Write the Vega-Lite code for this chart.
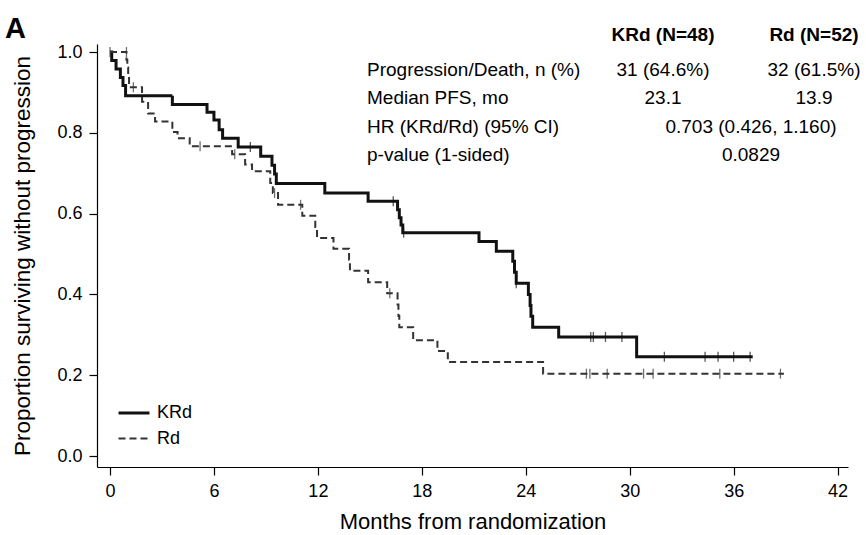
{
  "$schema": "https://vega.github.io/schema/vega-lite/v6.json",
  "width": 751,
  "height": 423,
  "autosize": {"type": "none"},
  "padding": {"left": 97, "top": 44, "right": 18, "bottom": 68},
  "background": "white",
  "title": {"text": "A", "anchor": "start", "frame": "bounds", "fontSize": 29, "fontWeight": "bold", "font": "Liberation Sans", "color": "black", "dx": -7, "dy": 22},
  "config": {
    "view": {"stroke": null},
    "font": "Liberation Sans",
    "axis": {
      "domainColor": "black", "domainWidth": 1.2, "tickColor": "black", "tickWidth": 1.2, "tickSize": 8,
      "labelFontSize": 18, "titleFontSize": 22, "labelColor": "black", "titleColor": "black",
      "titleFontWeight": "normal", "grid": false, "labelFont": "Liberation Sans", "titleFont": "Liberation Sans"
    }
  },
  "datasets": {
    "curves": [
      {"arm": "KRd", "t": 0, "s": 1.0},
      {"arm": "KRd", "t": 0.1, "s": 0.979},
      {"arm": "KRd", "t": 0.35, "s": 0.958},
      {"arm": "KRd", "t": 0.6, "s": 0.937},
      {"arm": "KRd", "t": 0.75, "s": 0.917},
      {"arm": "KRd", "t": 0.9, "s": 0.892},
      {"arm": "KRd", "t": 3.6, "s": 0.870},
      {"arm": "KRd", "t": 5.6, "s": 0.851},
      {"arm": "KRd", "t": 6.0, "s": 0.832},
      {"arm": "KRd", "t": 6.3, "s": 0.808},
      {"arm": "KRd", "t": 6.5, "s": 0.787},
      {"arm": "KRd", "t": 7.4, "s": 0.765},
      {"arm": "KRd", "t": 8.7, "s": 0.742},
      {"arm": "KRd", "t": 9.35, "s": 0.72},
      {"arm": "KRd", "t": 9.5, "s": 0.698},
      {"arm": "KRd", "t": 9.6, "s": 0.675},
      {"arm": "KRd", "t": 12.4, "s": 0.651},
      {"arm": "KRd", "t": 14.9, "s": 0.631},
      {"arm": "KRd", "t": 16.6, "s": 0.61},
      {"arm": "KRd", "t": 16.7, "s": 0.59},
      {"arm": "KRd", "t": 16.8, "s": 0.572},
      {"arm": "KRd", "t": 16.9, "s": 0.553},
      {"arm": "KRd", "t": 21.3, "s": 0.531},
      {"arm": "KRd", "t": 22.3, "s": 0.507},
      {"arm": "KRd", "t": 23.25, "s": 0.482},
      {"arm": "KRd", "t": 23.35, "s": 0.455},
      {"arm": "KRd", "t": 23.45, "s": 0.428},
      {"arm": "KRd", "t": 24.15, "s": 0.4},
      {"arm": "KRd", "t": 24.25, "s": 0.373},
      {"arm": "KRd", "t": 24.3, "s": 0.346},
      {"arm": "KRd", "t": 24.4, "s": 0.319},
      {"arm": "KRd", "t": 25.9, "s": 0.295},
      {"arm": "KRd", "t": 30.4, "s": 0.246},
      {"arm": "KRd", "t": 37.1, "s": 0.246},
      {"arm": "Rd", "t": 0, "s": 1.0},
      {"arm": "Rd", "t": 0.95, "s": 0.981},
      {"arm": "Rd", "t": 1.0, "s": 0.962},
      {"arm": "Rd", "t": 1.05, "s": 0.942},
      {"arm": "Rd", "t": 1.1, "s": 0.913},
      {"arm": "Rd", "t": 1.85, "s": 0.877},
      {"arm": "Rd", "t": 2.2, "s": 0.848},
      {"arm": "Rd", "t": 2.6, "s": 0.828},
      {"arm": "Rd", "t": 3.6, "s": 0.802},
      {"arm": "Rd", "t": 3.9, "s": 0.787},
      {"arm": "Rd", "t": 4.6, "s": 0.767},
      {"arm": "Rd", "t": 7.05, "s": 0.747},
      {"arm": "Rd", "t": 7.8, "s": 0.722},
      {"arm": "Rd", "t": 8.2, "s": 0.705},
      {"arm": "Rd", "t": 9.25, "s": 0.676},
      {"arm": "Rd", "t": 9.4, "s": 0.651},
      {"arm": "Rd", "t": 9.7, "s": 0.622},
      {"arm": "Rd", "t": 11.1, "s": 0.595},
      {"arm": "Rd", "t": 11.85, "s": 0.567},
      {"arm": "Rd", "t": 11.95, "s": 0.54},
      {"arm": "Rd", "t": 12.9, "s": 0.513},
      {"arm": "Rd", "t": 13.8, "s": 0.486},
      {"arm": "Rd", "t": 13.85, "s": 0.459},
      {"arm": "Rd", "t": 14.9, "s": 0.43},
      {"arm": "Rd", "t": 16.0, "s": 0.403},
      {"arm": "Rd", "t": 16.6, "s": 0.375},
      {"arm": "Rd", "t": 16.65, "s": 0.347},
      {"arm": "Rd", "t": 16.7, "s": 0.319},
      {"arm": "Rd", "t": 17.5, "s": 0.287},
      {"arm": "Rd", "t": 18.9, "s": 0.26},
      {"arm": "Rd", "t": 19.5, "s": 0.233},
      {"arm": "Rd", "t": 25.0, "s": 0.204},
      {"arm": "Rd", "t": 38.9, "s": 0.204}
    ],
    "censor": [
      {"arm": "KRd", "t": 8.1, "s": 0.765},
      {"arm": "KRd", "t": 16.35, "s": 0.631},
      {"arm": "KRd", "t": 16.95, "s": 0.553},
      {"arm": "KRd", "t": 23.45, "s": 0.428},
      {"arm": "KRd", "t": 27.75, "s": 0.295},
      {"arm": "KRd", "t": 27.9, "s": 0.295},
      {"arm": "KRd", "t": 28.6, "s": 0.295},
      {"arm": "KRd", "t": 29.55, "s": 0.295},
      {"arm": "KRd", "t": 32.0, "s": 0.246},
      {"arm": "KRd", "t": 34.35, "s": 0.246},
      {"arm": "KRd", "t": 35.1, "s": 0.246},
      {"arm": "KRd", "t": 36.0, "s": 0.246},
      {"arm": "KRd", "t": 36.95, "s": 0.246},
      {"arm": "Rd", "t": 0.0, "s": 1.0},
      {"arm": "Rd", "t": 0.95, "s": 1.0},
      {"arm": "Rd", "t": 1.35, "s": 0.913},
      {"arm": "Rd", "t": 5.2, "s": 0.767},
      {"arm": "Rd", "t": 7.2, "s": 0.747},
      {"arm": "Rd", "t": 9.5, "s": 0.651},
      {"arm": "Rd", "t": 11.0, "s": 0.622},
      {"arm": "Rd", "t": 16.15, "s": 0.403},
      {"arm": "Rd", "t": 27.5, "s": 0.204},
      {"arm": "Rd", "t": 27.7, "s": 0.204},
      {"arm": "Rd", "t": 28.7, "s": 0.204},
      {"arm": "Rd", "t": 30.8, "s": 0.204},
      {"arm": "Rd", "t": 31.35, "s": 0.204},
      {"arm": "Rd", "t": 35.2, "s": 0.204},
      {"arm": "Rd", "t": 38.7, "s": 0.204}
    ],
    "table": [
      {"row": "head", "col": "KRd", "text": "KRd (N=48)"},
      {"row": "head", "col": "Rd", "text": "Rd (N=52)"},
      {"row": "pd", "col": "label", "text": "Progression/Death, n (%)"},
      {"row": "pd", "col": "KRd", "text": "31 (64.6%)"},
      {"row": "pd", "col": "Rd", "text": "32 (61.5%)"},
      {"row": "med", "col": "label", "text": "Median PFS, mo"},
      {"row": "med", "col": "KRd", "text": "23.1"},
      {"row": "med", "col": "Rd", "text": "13.9"},
      {"row": "hr", "col": "label", "text": "HR (KRd/Rd) (95% CI)"},
      {"row": "hr", "col": "both", "text": "0.703 (0.426, 1.160)"},
      {"row": "p", "col": "label", "text": "p-value (1-sided)"},
      {"row": "p", "col": "both", "text": "0.0829"}
    ]
  },
  "resolve": {"scale": {"x": "independent", "y": "independent"}, "axis": {"x": "independent", "y": "independent"}},
  "layer": [
    {
      "data": {"name": "curves"},
      "mark": {"type": "line", "interpolate": "step-after"},
      "encoding": {
        "x": {"field": "t", "type": "quantitative",
              "scale": {"domain": [-0.75, 42.6], "nice": false, "zero": false},
              "axis": {"values": [0, 6, 12, 18, 24, 30, 36, 42], "title": "Months from randomization", "labelPadding": 7, "titlePadding": 11}},
        "y": {"field": "s", "type": "quantitative",
              "scale": {"domain": [-0.027, 1.02], "nice": false, "zero": false},
              "axis": {"values": [0, 0.2, 0.4, 0.6, 0.8, 1.0], "format": ".1f", "title": "Proportion surviving without progression", "labelPadding": 7, "titlePadding": 22, "titleFontSize": 22.5}},
        "strokeDash": {"field": "arm", "type": "nominal",
              "scale": {"domain": ["KRd", "Rd"], "range": [[1, 0], [7, 4]]},
              "legend": {"orient": "none", "legendX": 20, "legendY": 352, "title": null, "symbolType": "stroke", "symbolSize": 960, "symbolStrokeColor": "black", "symbolStrokeWidth": 3, "symbolOpacity": 1, "labelFontSize": 18, "labelColor": "black", "labelOffset": 6, "rowPadding": -1, "padding": 0}},
        "strokeWidth": {"field": "arm", "type": "nominal", "scale": {"domain": ["KRd", "Rd"], "range": [3, 2]},
              "legend": {"orient": "none", "legendX": 20, "legendY": 352, "title": null, "symbolType": "stroke", "symbolSize": 960, "symbolStrokeColor": "black", "symbolStrokeWidth": 3, "symbolOpacity": 1, "labelFontSize": 18, "labelColor": "black", "labelOffset": 6, "rowPadding": -1, "padding": 0}},
        "color": {"field": "arm", "type": "nominal", "scale": {"domain": ["KRd", "Rd"], "range": ["#111111", "#333333"]},
              "legend": {"orient": "none", "legendX": 20, "legendY": 352, "title": null, "symbolType": "stroke", "symbolSize": 960, "symbolStrokeColor": "black", "symbolStrokeWidth": 3, "symbolOpacity": 1, "labelFontSize": 18, "labelColor": "black", "labelOffset": 6, "rowPadding": -1, "padding": 0}}
      }
    },
    {
      "data": {"name": "censor"},
      "mark": {"type": "tick", "orient": "vertical", "size": 10, "thickness": 1.3},
      "encoding": {
        "x": {"field": "t", "type": "quantitative", "scale": {"domain": [-0.75, 42.6], "nice": false, "zero": false}, "axis": null},
        "y": {"field": "s", "type": "quantitative", "scale": {"domain": [-0.027, 1.02], "nice": false, "zero": false}, "axis": null},
        "color": {"field": "arm", "type": "nominal", "scale": {"domain": ["KRd", "Rd"], "range": ["#111111", "#333333"]},
              "legend": {"orient": "none", "legendX": 20, "legendY": 352, "title": null, "symbolType": "stroke", "symbolSize": 960, "symbolStrokeColor": "black", "symbolStrokeWidth": 3, "symbolOpacity": 1, "labelFontSize": 18, "labelColor": "black", "labelOffset": 6, "rowPadding": -1, "padding": 0}}
      }
    },
    {
      "mark": {"type": "rule", "color": "black", "strokeWidth": 1.5},
      "encoding": {
        "x": {"datum": 14.84, "type": "quantitative", "scale": {"domain": [-0.75, 42.6], "nice": false, "zero": false}, "axis": null},
        "x2": {"datum": 43.3},
        "y": {"datum": 1.002, "type": "quantitative", "scale": {"domain": [-0.027, 1.02], "nice": false, "zero": false}, "axis": null}
      }
    },
    {
      "data": {"name": "table"},
      "transform": [{"filter": "datum.col === 'label'"}],
      "mark": {"type": "text", "align": "left", "baseline": "middle", "fontSize": 19, "color": "black", "dx": -220.5},
      "encoding": {
        "x": {"field": "col", "type": "nominal", "scale": {"type": "point", "domain": ["label", "KRd", "both", "Rd"], "range": [490.5, 717], "padding": 0}, "axis": null},
        "y": {"field": "row", "type": "nominal", "scale": {"type": "point", "domain": ["head", "pd", "med", "hr", "p"], "range": [-2.3, 111], "padding": 0}, "axis": null},
        "text": {"field": "text"}
      }
    },
    {
      "data": {"name": "table"},
      "transform": [{"filter": "datum.row !== 'head' && (datum.col === 'KRd' || datum.col === 'Rd')"}],
      "mark": {"type": "text", "align": "center", "baseline": "middle", "fontSize": 19, "color": "black"},
      "encoding": {
        "x": {"field": "col", "type": "nominal", "scale": {"type": "point", "domain": ["label", "KRd", "both", "Rd"], "range": [490.5, 717], "padding": 0}, "axis": null},
        "y": {"field": "row", "type": "nominal", "scale": {"type": "point", "domain": ["head", "pd", "med", "hr", "p"], "range": [-2.3, 111], "padding": 0}, "axis": null},
        "text": {"field": "text"}
      }
    },
    {
      "data": {"name": "table"},
      "transform": [{"filter": "datum.col === 'both'"}],
      "mark": {"type": "text", "align": "center", "baseline": "middle", "fontSize": 19, "color": "black", "dx": 12.5},
      "encoding": {
        "x": {"field": "col", "type": "nominal", "scale": {"type": "point", "domain": ["label", "KRd", "both", "Rd"], "range": [490.5, 717], "padding": 0}, "axis": null},
        "y": {"field": "row", "type": "nominal", "scale": {"type": "point", "domain": ["head", "pd", "med", "hr", "p"], "range": [-2.3, 111], "padding": 0}, "axis": null},
        "text": {"field": "text"}
      }
    },
    {
      "data": {"name": "table"},
      "transform": [{"filter": "datum.row === 'head'"}],
      "mark": {"type": "text", "align": "center", "baseline": "middle", "fontSize": 19, "fontWeight": "bold", "color": "black", "dy": -6.7},
      "encoding": {
        "x": {"field": "col", "type": "nominal", "scale": {"type": "point", "domain": ["label", "KRd", "both", "Rd"], "range": [490.5, 717], "padding": 0}, "axis": null},
        "y": {"field": "row", "type": "nominal", "scale": {"type": "point", "domain": ["head", "pd", "med", "hr", "p"], "range": [-2.3, 111], "padding": 0}, "axis": null},
        "text": {"field": "text"}
      }
    }
  ]
}
